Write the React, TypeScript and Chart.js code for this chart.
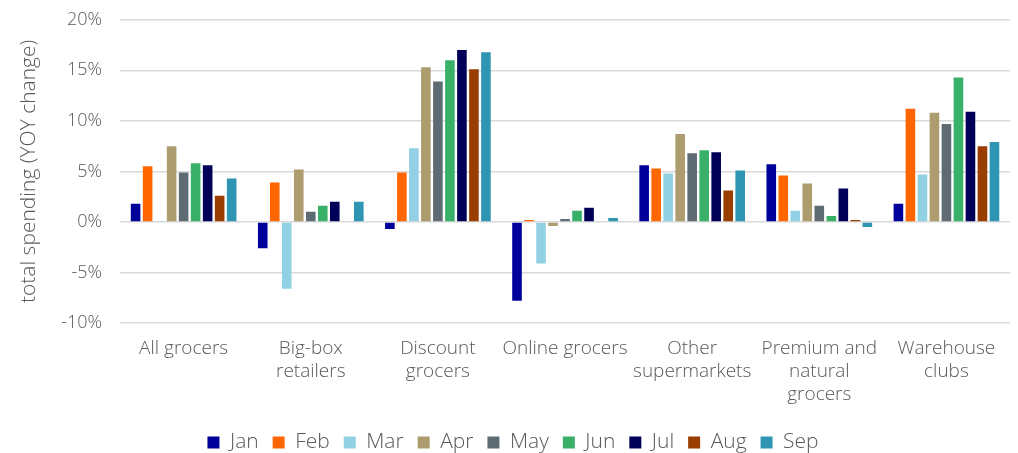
import React, { useEffect, useRef } from "react";
import { Chart, registerables } from "chart.js";

Chart.register(...registerables);

const categories: string[][] = [
  ["All grocers"],
  ["Big-box", "retailers"],
  ["Discount", "grocers"],
  ["Online grocers"],
  ["Other", "supermarkets"],
  ["Premium and", "natural", "grocers"],
  ["Warehouse", "clubs"],
];

const months = ["Jan", "Feb", "Mar", "Apr", "May", "Jun", "Jul", "Aug", "Sep"];

const jan = [1.8, -2.6, -0.7, -7.8, 5.6, 5.7, 1.8];
const feb = [5.5, 3.9, 4.9, 0.2, 5.3, 4.6, 11.2];
const mar = [0.1, -6.6, 7.3, -4.1, 4.8, 1.1, 4.7];
const apr = [7.5, 5.2, 15.3, -0.4, 8.7, 3.8, 10.8];
const may = [4.9, 1.0, 13.9, 0.3, 6.8, 1.6, 9.7];
const jun = [5.8, 1.6, 16.0, 1.1, 7.1, 0.6, 14.3];
const jul = [5.6, 2.0, 17.0, 1.4, 6.9, 3.3, 10.9];
const aug = [2.6, null, 15.1, null, 3.1, 0.2, 7.5];
const sep = [4.3, 2.0, 16.8, 0.4, 5.1, -0.5, 7.9];

const series = [jan, feb, mar, apr, may, jun, jul, aug, sep];
const colors = [
  "#00009A",
  "#FF6600",
  "#92D1E3",
  "#AC9C6E",
  "#5F6B73",
  "#38B068",
  "#000058",
  "#993D00",
  "#2E96B2",
];

const yTicks = { min: -10, max: 20, step: 5 };

export default function App() {
  const ref = useRef<HTMLCanvasElement>(null);
  useEffect(() => {
    if (!ref.current) return;
    const font = "'Open Sans', 'Noto Sans', sans-serif";
    const gray = "#595959";
    const chart = new Chart(ref.current, {
      type: "bar",
      data: {
        labels: categories,
        datasets: months.map((m, i) => ({
          label: m,
          data: series[i],
          backgroundColor: colors[i],
          borderWidth: 0,
          categoryPercentage: 0.85,
          barPercentage: 0.8,
        })),
      },
      options: {
        animation: false,
        responsive: true,
        maintainAspectRatio: false,
        layout: { padding: { top: 3, right: 8, left: 16, bottom: -10 } },
        plugins: {
          legend: {
            position: "bottom",
            labels: {
              boxWidth: 12,
              boxHeight: 12,
              color: gray,
              font: { family: font, size: 21, weight: 300 },
              padding: 14,
            },
          },
          tooltip: { enabled: false },
        },
        scales: {
          x: {
            grid: { display: false },
            border: { display: false },
            afterFit: (scale: any) => {
              scale.height += 6;
            },
            ticks: {
              color: gray,
              font: { family: font, size: 19, weight: 300, lineHeight: 1.21 },
              maxRotation: 0,
              autoSkip: false,
              padding: 6,
            },
          },
          y: {
            min: yTicks.min,
            max: yTicks.max,
            ticks: {
              stepSize: yTicks.step,
              color: gray,
              font: { family: font, size: 18, weight: 300, lineHeight: 0.2 },
              padding: 18,
              callback: (v: any) => v + "%",
            },
            grid: { color: "#D9D9D9", lineWidth: 1.5, drawTicks: false },
            border: { display: false },
            title: {
              display: true,
              text: "total spending (YOY change)",
              color: gray,
              font: { family: font, size: 21, weight: 300 },
              padding: { top: 0, bottom: 2 },
            },
          },
        },
      },
    });
    return () => chart.destroy();
  }, []);
  return (
    <div style={{ position: "absolute", left: 0, top: 0, width: 1018, height: 453 }}>
      <canvas ref={ref} />
    </div>
  );
}
